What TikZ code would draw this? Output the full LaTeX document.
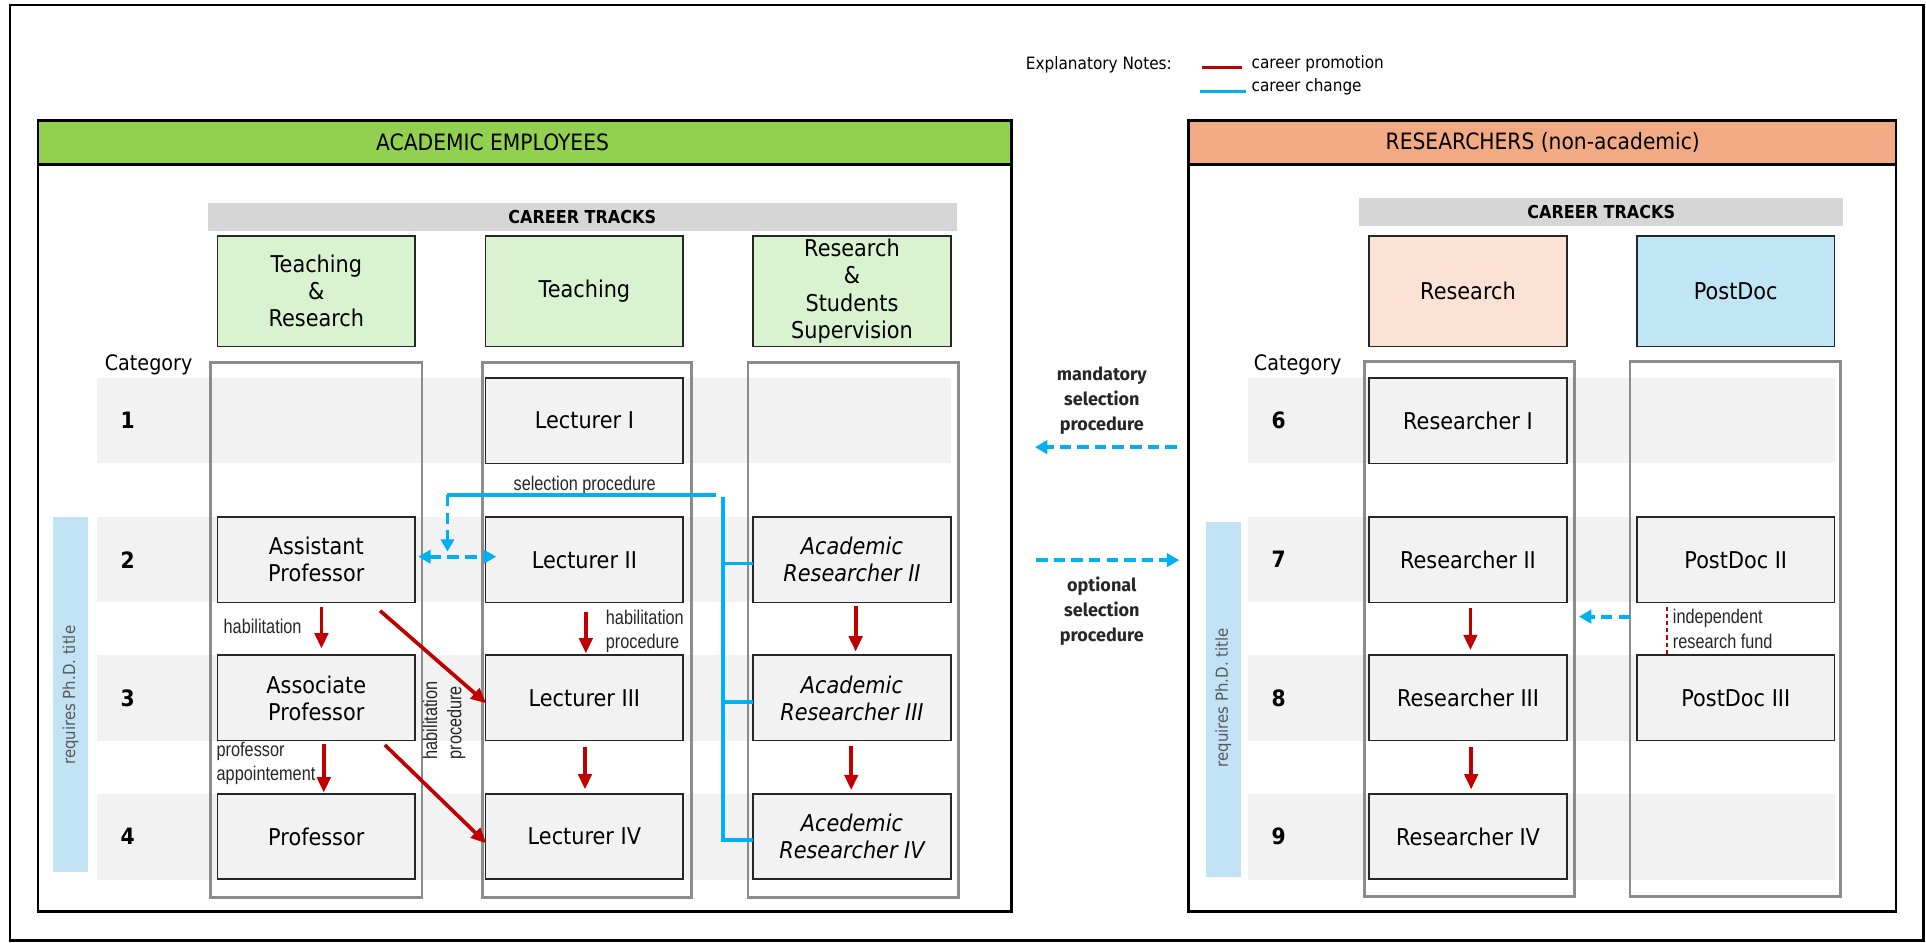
\documentclass[tikz,border=0pt]{standalone}
\usepackage{fontspec}
\setmainfont{DejaVu Sans}[FakeStretch=0.9]
\newfontfamily\narrowfont{Liberation Sans}[FakeStretch=0.82]
\newfontfamily\midfont{Fira Sans}
\usetikzlibrary{arrows.meta,calc}
\definecolor{hdrgreen}{HTML}{92D050}
\definecolor{hdrsalmon}{HTML}{F2AA84}
\definecolor{trkgreen}{HTML}{D9F2D0}
\definecolor{trksalmon}{HTML}{FBE2D5}
\definecolor{trkblue}{HTML}{C0E6F5}
\definecolor{band}{HTML}{F2F2F2}
\definecolor{colgray}{HTML}{8C8C8C}
\definecolor{stripe}{HTML}{C2E2F5}
\definecolor{barray}{HTML}{D6D6D6}
\definecolor{promo}{HTML}{C00000}
\definecolor{change}{HTML}{00B0F0}
\begin{document}
\begin{tikzpicture}[x=0.6pt,y=-0.6pt,
  every node/.style={inner sep=0pt, outer sep=0pt},
  posbox/.style={draw=black!85, line width=0.8pt, fill=band, minimum width=96.6pt, minimum height=41.7pt, align=center, font=\fontsize{11.3}{13.2}\selectfont},
  posit/.style={posbox, font=\itshape\fontsize{11.3}{13.2}\selectfont},
  trackbox/.style={draw=black!85, line width=0.8pt, minimum width=96.6pt, minimum height=54pt, align=center, font=\fontsize{11.3}{13.2}\selectfont},
  catnum/.style={font=\bfseries\fontsize{11}{13}\selectfont},
  catlbl/.style={font=\fontsize{10.4}{12}\selectfont},
  note/.style={font=\narrowfont\fontsize{9.7}{11.8}\selectfont, text=black!85, align=left},
  midtext/.style={font=\midfont\bfseries\fontsize{8.8}{12.2}\selectfont, text=black!85, align=center},
  legendtxt/.style={font=\fontsize{8.3}{10}\selectfont},
  hdrtext/.style={font=\fontsize{11}{13}\selectfont},
  tracksfont/.style={font=\bfseries\fontsize{8.7}{10}\selectfont},
  phd/.style={font=\fontsize{8.1}{10}\selectfont, text=black!65, rotate=90},
  colframe/.style={draw=colgray, line width=1.4pt},
  panelframe/.style={draw=black, line width=1.3pt},
  promoarrow/.style={draw=promo, line width=1.8pt, -{Triangle[length=7.5pt,width=6.5pt]}},
  chsolid/.style={draw=change, line width=1.9pt},
  chdash/.style={draw=change, line width=1.9pt, dash pattern=on 5.6pt off 3pt},
  chtip/.style={-{Triangle[length=6pt,width=6.5pt]}},
  chtips/.style={{Triangle[length=6pt,width=6.5pt]}-{Triangle[length=6pt,width=6.5pt]}}
]
\useasboundingbox (0,0) rectangle (1568,767);
% outer frame
\draw[line width=1.3pt] (8.1,4.1) rectangle (1566,765.5);

% legend
\node[legendtxt] (explnotes) at (894.6,52.9) {Explanatory Notes:};
\coordinate (lgRa) at (978.3,54.8); \coordinate (lgRb) at (1010.9,54.8);
\draw[draw=promo, line width=1.5pt] (lgRa) -- (lgRb);
\node[legendtxt, anchor=west] (lgpromo) at (1019,52.1) {career promotion};
\coordinate (lgBa) at (977,74.5); \coordinate (lgBb) at (1014,74.5);
\draw[draw=change, line width=1.7pt] (lgBa) -- (lgBb);
\node[legendtxt, anchor=west] (lgchange) at (1019,70.6) {career change};

% panels
\draw[panelframe] (31,98) rectangle (823.6,742);
\filldraw[panelframe, fill=hdrgreen] (31,98) rectangle (823.6,133.8);
\node[hdrtext] (acadtitle) at (401,116) {ACADEMIC EMPLOYEES};
\draw[panelframe] (967.6,98) rectangle (1543.6,742);
\filldraw[panelframe, fill=hdrsalmon] (967.6,98) rectangle (1543.6,133.8);
\node[hdrtext] (restitle) at (1256,116) {RESEARCHERS (non-academic)};

% career tracks bars
\fill[barray] (169,165) rectangle (779.4,188);
\node[tracksfont] (ctL) at (474,177) {CAREER TRACKS};
\fill[barray] (1106.6,161) rectangle (1500.5,184);
\node[tracksfont] (ctR) at (1303.6,172.5) {CAREER TRACKS};

% track headers
\node[trackbox, fill=trkgreen] (tTR) at (257.5,237) {Teaching\\\&\\Research};
\node[trackbox, fill=trkgreen] (tT) at (475.75,237) {Teaching};
\node[trackbox, fill=trkgreen] (tRS) at (693.6,237) {Research\\\&\\Students\\Supervision};
\node[trackbox, fill=trksalmon] (tR) at (1195.1,237) {Research};
\node[trackbox, fill=trkblue] (tP) at (1413.1,237) {PostDoc};

\node[catlbl] (catL) at (121,297) {Category};
\node[catlbl] (catR) at (1056.5,297) {Category};

% row bands
\foreach \t/\b in {308/377,421/490.4,533.3/603,646/716}{
  \fill[band] (79,\t) rectangle (774,\b);
  \fill[band] (1016.4,\t) rectangle (1493.6,\b);
}
% column frames
\draw[colframe] (171.5,295) rectangle (343.5,731);
\draw[colframe] (392.5,295) rectangle (563,731);
\draw[colframe] (609,295) rectangle (780.5,731);
\draw[colframe] (1110.5,294.5) rectangle (1281.5,730);
\draw[colframe] (1327,294.5) rectangle (1498.6,730);

% phd stripes
\fill[stripe] (43.3,421) rectangle (71.6,709.6);
\node[phd] (phdL) at (57.5,566) {requires Ph.D. title};
\fill[stripe] (982,425) rectangle (1010,713.7);
\node[phd] (phdR) at (996,568) {requires Ph.D. title};

% category numbers
\node[catnum] (n1) at (104,342.5) {1};
\node[catnum] (n2) at (104,455.7) {2};
\node[catnum] (n3) at (104,568.2) {3};
\node[catnum] (n4) at (104,681) {4};
\node[catnum] (n6) at (1041,342.5) {6};
\node[catnum] (n7) at (1041,455.7) {7};
\node[catnum] (n8) at (1041,568.2) {8};
\node[catnum] (n9) at (1041,681) {9};

% position boxes
\node[posbox] (lec1) at (475.75,342.5) {Lecturer I};
\node[posbox] (asst) at (257.5,455.7) {Assistant\\Professor};
\node[posbox] (lec2) at (475.75,455.7) {Lecturer II};
\node[posit] (ar2) at (693.6,455.7) {Academic\\Researcher II};
\node[posbox] (assoc) at (257.5,568.2) {Associate\\Professor};
\node[posbox] (lec3) at (475.75,568.2) {Lecturer III};
\node[posit] (ar3) at (693.6,568.2) {Academic\\Researcher III};
\node[posbox] (prof) at (257.5,681) {Professor};
\node[posbox] (lec4) at (475.75,681) {Lecturer IV};
\node[posit] (ar4) at (693.6,681) {Acedemic\\Researcher IV};
\node[posbox] (r1) at (1195.1,342.5) {Researcher I};
\node[posbox] (r2) at (1195.1,455.7) {Researcher II};
\node[posbox] (pd2) at (1413.1,455.7) {PostDoc II};
\node[posbox] (r3) at (1195.1,568.2) {Researcher III};
\node[posbox] (pd3) at (1413.1,568.2) {PostDoc III};
\node[posbox] (r4) at (1195.1,681) {Researcher IV};

% promotions
\draw[promoarrow] ($(asst.south)+(4.2,4)$) -- ($(assoc.north)+(4.2,-5.5)$);
\draw[promoarrow] ($(assoc.south)+(6.1,2.8)$) -- ($(prof.north)+(6.1,-1)$);
\draw[promoarrow] ($(asst.south east)+(-28.6,6.75)$) -- ($(lec3.west)+(0.7,4.4)$);
\draw[promoarrow] ($(assoc.south east)+(-24.6,3.55)$) -- ($(lec4.west)+(0.7,5.6)$);
\draw[promoarrow] ($(lec2.south)+(1.2,7.5)$) -- ($(lec3.north)+(1.2,-1.5)$);
\draw[promoarrow] ($(lec3.south)+(0.5,5)$) -- ($(lec4.north)+(0.5,-3.6)$);
\draw[promoarrow] ($(ar2.south)+(3,3)$) -- ($(ar3.north)+(3,-3)$);
\draw[promoarrow] ($(ar3.south)+(-0.6,4)$) -- ($(ar4.north)+(-0.6,-3)$);
\draw[promoarrow] ($(r2.south)+(2,4.8)$) -- ($(r3.north)+(2,-4.2)$);
\draw[promoarrow] ($(r3.south)+(2.6,5)$) -- ($(r4.north)+(2.6,-3.6)$);

% labels
\node[note] (habil1) at (213.8,509.7) {habilitation};
\node[note, anchor=west] (habil2) at (493.3,514) {habilitation\\procedure};
\node[note, anchor=west] (profapp) at (176.4,621.8) {professor\\appointement};
\node[note, rotate=90] (habil3) at (361.6,586.5) {habilitation\\procedure};
\node[note] (selproc) at (476,395.5) {selection procedure};

% career change (left)
\coordinate (selR) at (583,403);
\coordinate (selL) at (364.3,403);
\coordinate (selD) at (364.3,449);
\draw[chsolid] (selR) -- (selL);
\draw[chdash, chtip] (selL) -- (selD);
\draw[chdash, chtips] ($(asst.east)+(2.6,-2.5)$) -- ($(lec2.west)+(8.7,-2.5)$);
\coordinate (busTop) at (588.4,404.5);
\draw[chsolid] (busTop) |- ($(ar4.west)+(0,3)$);
\draw[chsolid] ($(ar2.west)+(0,3)$) -- ++(-25.6,0);
\draw[chsolid] ($(ar3.west)+(0,3)$) -- ++(-25.6,0);

% middle
\coordinate (mandR) at (958,364); \coordinate (mandL) at (842.6,364);
\draw[chdash, chtip] (mandR) -- (mandL);
\node[midtext] (mandtxt) at (897,326.4) {mandatory\\selection\\procedure};
\coordinate (optL) at (843.5,456); \coordinate (optR) at (960,456);
\draw[chdash, chtip] (optL) -- (optR);
\node[midtext] (opttxt) at (897,497.8) {optional\\selection\\procedure};

% right side change
\coordinate (pdA) at (1327,502); \coordinate (pdB) at (1285.5,502);
\draw[chdash, chtip] (pdA) -- (pdB);
\draw[draw=promo, line width=0.6pt, dash pattern=on 2pt off 1.5pt] ($(pd2.south)+(-56,3.5)$) -- ($(pd3.north)+(-56,0)$);
\node[note, anchor=west] (fund) at (1362,512) {independent\\research fund};
\end{tikzpicture}
\end{document}
